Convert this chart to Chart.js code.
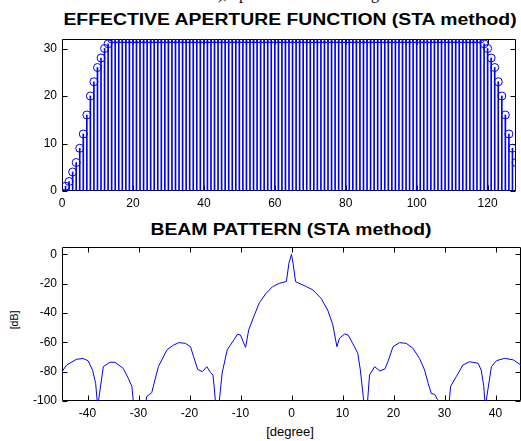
<!DOCTYPE html>
<html>
<head>
<meta charset="utf-8">
<script src="https://cdn.jsdelivr.net/npm/chart.js@4"></script>
<style>
  body { margin: 0; background: #fff; width: 521px; height: 441px; overflow: hidden; position: relative; font-family: "Liberation Sans", Arial, sans-serif; }
  .wrap { position: absolute; left: 0; }
  .lbl { position: absolute; white-space: nowrap; line-height: 1; color: #000; }
  .ttl { font-weight: bold; font-size: 16px; transform: translateX(-50%) scaleX(1.21); }
  .frag { position: absolute; font-family: "Liberation Serif", serif; font-size: 16px; line-height: 1; top: -14px; }
</style>
</head>
<body>
<!-- leftovers of the text line above the figure, cut off -->
<span class="frag" style="left:218px">),</span>
<span class="frag" style="left:239px">p</span>
<span class="frag" style="left:371px">g</span>

<div class="lbl ttl" style="left:290px; top:12px">EFFECTIVE APERTURE FUNCTION (STA method)</div>
<div class="lbl ttl" style="left:291px; top:222px">BEAM PATTERN (STA method)</div>
<div class="lbl" style="left:290px; top:425px; font-size:13px; transform:translateX(-50%)">[degree]</div>
<div class="lbl" style="left:14px; top:320px; font-size:10.5px; transform:translate(-50%,-50%) rotate(-90deg)">[dB]</div>

<div class="wrap" style="top:0"><canvas id="apChart" width="521" height="215"></canvas></div>
<div class="wrap" style="top:215px"><canvas id="bpChart" width="521" height="226"></canvas></div>

<script>
// effective aperture, element 1..127
var apertureVals = [
  1, 2, 4, 6, 9, 12, 16, 20, 23, 26, 28, 30, 31,
  32, 32, 32, 32, 32, 32, 32, 32, 32, 32, 32, 32, 32, 32, 32, 32, 32, 32, 32, 32,
  32, 32, 32, 32, 32, 32, 32, 32, 32, 32, 32, 32, 32, 32, 32, 32, 32, 32, 32, 32,
  32, 32, 32, 32, 32, 32, 32, 32, 32, 32, 32, 32, 32, 32, 32, 32, 32, 32, 32, 32,
  32, 32, 32, 32, 32, 32, 32, 32, 32, 32, 32, 32, 32, 32, 32, 32, 32, 32, 32, 32,
  32, 32, 32, 32, 32, 32, 32, 32, 32, 32, 32, 32, 32, 32, 32, 32, 32, 32, 32, 32,
  32, 32, 32, 32, 32,
  31, 30, 28, 26, 23, 20, 16, 12, 9, 6, 4, 2, 1
];
var apXTicks = [0, 20, 40, 60, 80, 100, 120];
var apYTicks = [0, 10, 20, 30];

// beam pattern [degree] / [dB]
var beamDeg = [-45, -44.1, -42.2, -40.9, -39.9, -39, -38.4, -38, -37.6, -36.9, -35.6, -34.6, -33, -32, -31.3, -30,
  -28.4, -27.4, -27.1, -26.1, -24.4, -23.1, -22.1, -20.8, -19.8, -19.2, -18.4, -17.5, -16.6, -15.9, -15.4, -15.1, -14.6,
  -13.6, -12.6, -11.3, -10.6, -10, -9.5, -9, -8.4, -7.4, -6.3, -5, -3.7, -2.4, -1, -0.5, 0, 0.3, 0.8,
  2.9, 4.2, 5.8, 7.1, 8.1, 8.9, 9.4, 10.4, 11.1, 12, 13, 13.5, 14, 14.6, 15.3, 16.3, 17.3, 18.3, 18.9, 19.9,
  21.2, 22.5, 23.8, 25.1, 26.1, 26.8, 27.4, 28.1, 28.6, 30, 31.2, 32.3, 33.6, 34.9, 36.6, 37.2, 37.7, 38, 38.5, 39.2,
  40.2, 41.8, 43.5, 45];
var beamDb = [-80, -75.5, -71.6, -71, -72.5, -79, -88, -104, -94, -76.6, -73.6, -73.6, -77.7, -84.5, -90, -135,
  -97, -94.3, -90, -76.6, -65, -61.8, -60.2, -60.7, -63, -69.8, -78.4, -80, -76.6, -80.5, -82.3, -92.5, -115,
  -81, -65, -58.4, -54.5, -55, -59.5, -63.4, -51.6, -42.5, -33, -26.6, -22, -19.8, -18.5, -6, 0, -6, -18.6,
  -22, -24.3, -30, -38, -48, -63, -57.3, -54.3, -55, -60.7, -67.5, -78.9, -94.8, -115, -82.3, -76.6, -79.5, -78.2, -73.2, -63,
  -60.2, -60.7, -64, -71, -78.9, -88, -94.8, -95.5, -99, -135, -90, -83.4, -75.5, -73.2, -74.3, -79, -90, -104, -92.5, -76.6,
  -72.5, -70.9, -72, -75.5];
var bpXTicks = [-40, -30, -20, -10, 0, 10, 20, 30, 40];
var bpYTicks = [-100, -80, -60, -40, -20, 0];

var BLUE = '#0000ff';
var tickFont = { family: '"Liberation Sans", Arial, sans-serif', size: 12 };

// matlab style box with inward ticks on all four sides
var boxTicks = {
  id: 'boxTicks',
  beforeDatasetsDraw: function(chart) {
    var ctx = chart.ctx, a = chart.chartArea;
    var sx = chart.scales.x, sy = chart.scales.y;
    var L = Math.round(a.left) + 0.5, R = Math.round(a.right) - 0.5;
    var T = Math.round(a.top) + 0.5, B = Math.round(a.bottom) - 0.5;
    ctx.save();
    ctx.strokeStyle = '#000';
    ctx.lineWidth = 1;
    ctx.beginPath();
    ctx.rect(L, T, R - L, B - T);
    sx.ticks.forEach(function(t) {
      var px = Math.round(sx.getPixelForValue(t.value)) + 0.5;
      ctx.moveTo(px, B); ctx.lineTo(px, B - 5);
      ctx.moveTo(px, T); ctx.lineTo(px, T + 5);
    });
    sy.ticks.forEach(function(t) {
      var py = Math.round(sy.getPixelForValue(t.value)) + 0.5;
      ctx.moveTo(L, py); ctx.lineTo(L + 5, py);
      ctx.moveTo(R, py); ctx.lineTo(R - 5, py);
    });
    ctx.stroke();
    ctx.restore();
  }
};

function fixedTicks(arr) {
  return function(scale) { scale.ticks = arr.map(function(v) { return { value: v }; }); };
}

function axes(xMin, xMax, xTicks, yMin, yMax, yTicks, xHeight) {
  return {
    x: {
      type: 'linear', min: xMin, max: xMax, offset: false,
      afterBuildTicks: fixedTicks(xTicks),
      afterFit: function(s) { s.height = xHeight; },
      grid: { display: false, drawTicks: false, offset: false },
      border: { display: false },
      ticks: { font: tickFont, color: '#000', padding: 5, maxRotation: 0, autoSkip: false }
    },
    y: {
      type: 'linear', min: yMin, max: yMax,
      afterBuildTicks: fixedTicks(yTicks),
      afterFit: function(s) { s.width = 62; },
      grid: { display: false, drawTicks: false },
      border: { display: false },
      ticks: { font: tickFont, color: '#000', padding: 5, autoSkip: false }
    }
  };
}

var apPoints = apertureVals.map(function(v, i) { return { x: i + 1, y: v }; });

new Chart(document.getElementById('apChart'), {
  type: 'bar',
  data: {
    datasets: [{
      type: 'bar',
      data: apPoints,
      backgroundColor: BLUE,
      barThickness: 1,
      grouped: false
    }, {
      type: 'line',
      data: apPoints,
      showLine: false,
      pointStyle: 'circle',
      pointRadius: 4,
      pointBorderWidth: 1,
      pointBorderColor: BLUE,
      pointBackgroundColor: 'rgba(0,0,0,0)'
    }]
  },
  options: {
    responsive: false,
    animation: false,
    layout: { padding: { top: 39, right: 2, left: 0, bottom: 0 } },
    plugins: { legend: { display: false }, tooltip: { enabled: false } },
    scales: axes(0, 128, apXTicks, 0, 32, apYTicks, 24)
  },
  plugins: [boxTicks]
});

new Chart(document.getElementById('bpChart'), {
  type: 'line',
  data: {
    datasets: [{
      data: beamDeg.map(function(d, i) { return { x: d, y: beamDb[i] }; }),
      borderColor: BLUE,
      borderWidth: 1,
      pointRadius: 0,
      tension: 0,
      clip: 0
    }]
  },
  options: {
    responsive: false,
    animation: false,
    layout: { padding: { top: 32, right: 0, left: 0, bottom: 0 } },
    plugins: { legend: { display: false }, tooltip: { enabled: false } },
    scales: axes(-45, 45, bpXTicks, -100, 5, bpYTicks, 40)
  },
  plugins: [boxTicks]
});
</script>
</body>
</html>
